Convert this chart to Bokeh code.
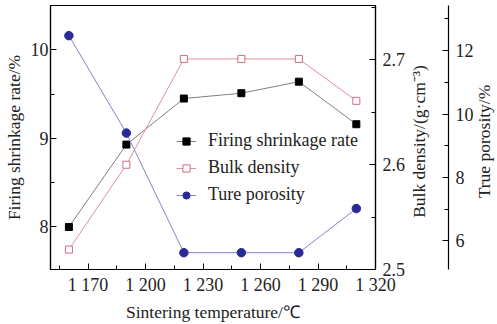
import math
from bokeh.plotting import figure
from bokeh.models import (Range1d, LinearAxis, SingleIntervalTicker, FixedTicker, Legend,
                          LegendItem, Label)
from bokeh.embed import file_html
from bokeh.resources import INLINE

temps = [1160, 1190, 1220, 1250, 1280, 1310]
shrinkage = [8.00, 8.93, 9.45, 9.51, 9.64, 9.16]
bulk_density = [2.519, 2.600, 2.701, 2.701, 2.701, 2.661]
true_porosity = [12.47, 9.40, 5.63, 5.63, 5.63, 7.02]
x_ticks = [1170, 1200, 1230, 1260, 1290, 1320]
x_tick_labels = ["1 170", "1 200", "1 230", "1 260", "1 290", "1 320"]

FONT = "Liberation Serif"

p = figure(width=497, height=324, output_backend="svg", toolbar_location=None,
           x_range=Range1d(1150.4, 1320), y_range=Range1d(7.52, 10.5),
           min_border_left=50, min_border_top=5, min_border_bottom=10, min_border_right=122)
p.extra_y_ranges = {"bulk": Range1d(2.5, 2.752), "por": Range1d(5.1, 13.42)}
p.background_fill_color = "white"
p.border_fill_color = "white"
p.outline_line_color = "black"
p.outline_line_width = 1.2
p.xgrid.visible = False
p.ygrid.visible = False

def style_axis(ax):
    ax.axis_line_color = "black"
    ax.axis_line_width = 1.2
    ax.major_tick_in = 6
    ax.major_tick_out = 0
    ax.minor_tick_in = 4
    ax.minor_tick_out = 0
    ax.major_tick_line_color = "black"
    ax.minor_tick_line_color = "black"
    ax.major_label_text_font = FONT
    ax.major_label_text_font_size = "18px"
    ax.major_label_text_color = "#222222"
    ax.axis_label_text_font = FONT
    ax.axis_label_text_font_size = "17.5px"
    ax.axis_label_text_font_style = "normal"
    ax.axis_label_text_color = "#222222"

xa = p.xaxis[0]
style_axis(xa)
xa.ticker = SingleIntervalTicker(interval=30, num_minor_ticks=2)
xa.major_label_overrides = {t: l for t, l in zip(x_ticks, x_tick_labels)}
xa.axis_label = "Sintering temperature/\u2103"
xa.major_label_standoff = 5
xa.axis_label_standoff = 4

ya = p.yaxis[0]
style_axis(ya)
ya.ticker = SingleIntervalTicker(interval=1, num_minor_ticks=2)
ya.axis_label = "Firing shrinkage rate/%"
ya.major_label_standoff = 2
ya.axis_label_standoff = 4

ymid = (p.y_range.start + p.y_range.end) / 2

def title_label(txt, off):
    return Label(x=p.x_range.end, y=ymid, x_offset=off, y_offset=-4, text=txt,
                 angle=math.pi / 2, text_align="center", text_baseline="middle",
                 text_font=FONT, text_font_size="17.5px", text_color="#222222")

ax2 = LinearAxis(y_range_name="bulk", axis_label=None)
style_axis(ax2)
ax2.ticker = SingleIntervalTicker(interval=0.1, num_minor_ticks=2)
ax2.major_label_standoff = 7
p.add_layout(ax2, "right")
p.add_layout(title_label("Bulk density/(g\u00b7cm\u207b\u00b3)", 43), "right")

spacer = LinearAxis(y_range_name="bulk", ticker=FixedTicker(ticks=[]), axis_label=" ")
spacer.axis_line_alpha = 0
spacer.major_tick_in = 0
spacer.major_tick_out = 0
spacer.minor_tick_in = 0
spacer.minor_tick_out = 0
spacer.major_label_standoff = 0
spacer.axis_label_standoff = 0
spacer.axis_label_text_font_size = "16px"
p.add_layout(spacer, "right")

ax3 = LinearAxis(y_range_name="por", axis_label=None)
style_axis(ax3)
ax3.ticker = SingleIntervalTicker(interval=2, num_minor_ticks=2)
ax3.major_label_standoff = 7
p.add_layout(ax3, "right")
p.add_layout(title_label("True porosity/%", 108), "right")

l1 = p.line(temps, shrinkage, line_color="#808080", line_width=1)
m1 = p.scatter(temps, shrinkage, marker="square", size=7, fill_color="black", line_color="black")
l2 = p.line(temps, bulk_density, y_range_name="bulk", line_color="#e0909c", line_width=1)
m2 = p.scatter(temps, bulk_density, y_range_name="bulk", marker="square", size=7,
               fill_color="white", line_color="#d06c84", line_width=1)
l3 = p.line(temps, true_porosity, y_range_name="por", line_color="#8484cc", line_width=1)
m3 = p.scatter(temps, true_porosity, y_range_name="por", marker="circle", size=8.5,
               fill_color="#2a2a96", line_color="#2a2a96")

legend = Legend(items=[
    LegendItem(label="Firing shrinkage rate", renderers=[l1, m1]),
    LegendItem(label="Bulk density", renderers=[l2, m2]),
    LegendItem(label="Ture porosity", renderers=[l3, m3]),
], location=(126, 64))
legend.background_fill_alpha = 0
legend.border_line_alpha = 0
legend.label_text_font = FONT
legend.label_text_font_size = "18px"
legend.label_text_color = "#222222"
legend.glyph_width = 20
legend.glyph_height = 18
legend.spacing = 6
legend.padding = 0
legend.margin = 0
legend.label_standoff = 12
p.add_layout(legend, "center")

open("out.html", "w").write(file_html(p, INLINE))
